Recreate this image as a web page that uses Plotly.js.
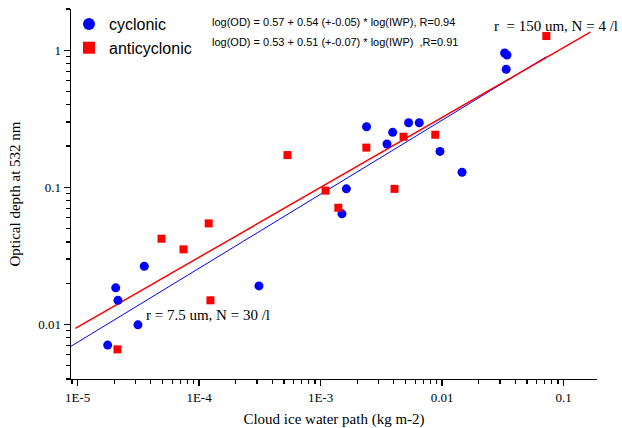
<!DOCTYPE html>
<html><head><meta charset="utf-8">
<script src="https://cdn.plot.ly/plotly-3.0.1.min.js"></script>
<style>html,body{margin:0;padding:0;background:#fff}#chart{width:622px;height:428px}</style>
</head><body><div id="chart"></div>
<script>
// Cyclonic cases: cloud ice water path (kg m-2) and optical depth at 532 nm
const cycIWP = [1.77e-5, 2.06e-5, 2.15e-5, 3.54e-5, 3.14e-5, 3.11e-4, 1.50e-3, 1.63e-3,
                2.39e-3, 3.92e-3, 3.52e-3, 5.30e-3, 6.49e-3, 9.61e-3, 0.0146, 0.0327, 0.0342, 0.0337];
const cycOD  = [0.00707, 0.0185, 0.0150, 0.0266, 0.00993, 0.0191, 0.0641, 0.0975,
                0.277, 0.252, 0.207, 0.296, 0.296, 0.183, 0.129, 0.956, 0.924, 0.727];
// Anticyclonic cases
const antiIWP = [2.13e-5, 4.91e-5, 7.45e-5, 1.20e-4, 1.24e-4, 5.34e-4, 1.10e-3, 1.40e-3,
                 2.38e-3, 4.82e-3, 8.79e-3, 4.06e-3, 0.0721];
const antiOD  = [0.00658, 0.0422, 0.0353, 0.0546, 0.0150, 0.172, 0.0947, 0.0710,
                 0.195, 0.234, 0.242, 0.0975, 1.27];
// Regression fits log(OD) = a + b*log(IWP), and the IWP span each line is drawn over
const cycFitCoef = [0.57, 0.54];
const cycFitSpan = [8.8e-6, 0.072];
const antiFitCoef = [0.53, 0.51];
const antiFitSpan = [9.6e-6, 0.166];
// Tick labels
const xTickVals = [1e-5, 1e-4, 1e-3, 1e-2, 1e-1];
const xTickText = ['1E-5', '1E-4', '1E-3', '0.01', '0.1'];
const yTickVals = [0.01, 0.1, 1];
const yTickText = ['0.01', '0.1', '1'];
const seriesNames = ['cyclonic', 'anticyclonic'];
const eqTexts = ['log(OD) = 0.57 + 0.54 (+-0.05) * log(IWP), R=0.94',
                 'log(OD) = 0.53 + 0.51 (+-0.07) * log(IWP)  ,R=0.91'];
const noteTexts = ['r  = 150 um, N = 4 /l', 'r = 7.5 um, N = 30 /l'];

function minorTicks(d0, d1) {
  const v = [];
  for (let d = d0; d <= d1; d++) for (let k = 2; k <= 9; k++) v.push(k * Math.pow(10, d));
  return v;
}
function fitLine(coef, span) {
  return {x: span, y: span.map(x => Math.pow(10, coef[0] + coef[1] * Math.log10(x)))};
}

const W = 622, H = 428, M = {l: 71, r: 25, t: 7, b: 49};
const PW = W - M.l - M.r, PH = H - M.t - M.b;
const px = x => (x - M.l) / PW;
const py = y => (H - M.b - y) / PH;

const serif = 'Liberation Serif, Times New Roman, serif';
const sans = 'Liberation Sans, Arial, sans-serif';

const cf = fitLine(cycFitCoef, cycFitSpan);
const af = fitLine(antiFitCoef, antiFitSpan);

const traces = [
  {x: cf.x, y: cf.y, mode: 'lines', line: {color: '#0000ff', width: 1}, showlegend: false, hoverinfo: 'skip'},
  {x: af.x, y: af.y, mode: 'lines', line: {color: '#ff0000', width: 1.5}, showlegend: false, hoverinfo: 'skip'},
  {x: cycIWP, y: cycOD, mode: 'markers', name: seriesNames[0],
   marker: {symbol: 'circle', color: '#0000ff', size: 9}},
  {x: antiIWP, y: antiOD, mode: 'markers', name: seriesNames[1],
   marker: {symbol: 'square', color: '#ff0000', size: 8}}
];

const axBase = {
  type: 'log', showgrid: false, zeroline: false, showline: true, linecolor: '#000', linewidth: 1.4,
  ticks: 'outside', ticklen: 6, tickwidth: 1.3, tickcolor: '#000', tickmode: 'array',
  tickfont: {family: serif, size: 13, color: '#000'}, mirror: false
};

const layout = {
  width: W, height: H, margin: M, paper_bgcolor: '#fff', plot_bgcolor: '#fff',
  xaxis: Object.assign({}, axBase, {
    range: [-5.054, -0.725], tickvals: xTickVals, ticktext: xTickText,
    minor: {tickmode: 'array', tickvals: minorTicks(-6, -1), ticks: 'outside', ticklen: 3.5, tickwidth: 1.2, tickcolor: '#000', showgrid: false},
    title: {text: 'Cloud ice water path (kg m-2)', font: {family: serif, size: 15, color: '#000'}, standoff: 12}
  }),
  yaxis: Object.assign({}, axBase, {
    range: [Math.log10(0.004), Math.log10(2)], tickvals: yTickVals, ticktext: yTickText,
    minor: {tickmode: 'array', tickvals: minorTicks(-3, 0), ticks: 'outside', ticklen: 3.5, tickwidth: 1.2, tickcolor: '#000', showgrid: false},
    title: {text: 'Optical depth at 532 nm', font: {family: serif, size: 15, color: '#000'}, standoff: 14}
  }),
  showlegend: true,
  legend: {x: px(69), y: py(5), xanchor: 'left', yanchor: 'top', bgcolor: 'rgba(0,0,0,0)',
           font: {family: sans, size: 16, color: '#000'}, tracegroupgap: 0, itemsizing: 'constant'},
  annotations: [
    {text: eqTexts[0], xref: 'paper', yref: 'paper', x: px(210), y: py(20), xanchor: 'left', yanchor: 'middle',
     showarrow: false, font: {family: sans, size: 11, color: '#000'}},
    {text: eqTexts[1], xref: 'paper', yref: 'paper', x: px(210), y: py(40), xanchor: 'left', yanchor: 'middle',
     showarrow: false, font: {family: sans, size: 11, color: '#000'}},
    {text: noteTexts[0], xref: 'paper', yref: 'paper', x: px(492), y: py(24), xanchor: 'left', yanchor: 'middle',
     showarrow: false, font: {family: serif, size: 15, color: '#000'}},
    {text: noteTexts[1], xref: 'paper', yref: 'paper', x: px(144), y: py(315), xanchor: 'left', yanchor: 'middle',
     showarrow: false, font: {family: serif, size: 15, color: '#000'}}
  ]
};

Plotly.newPlot('chart', traces, layout, {displayModeBar: false, staticPlot: true});
</script>
</body></html>
